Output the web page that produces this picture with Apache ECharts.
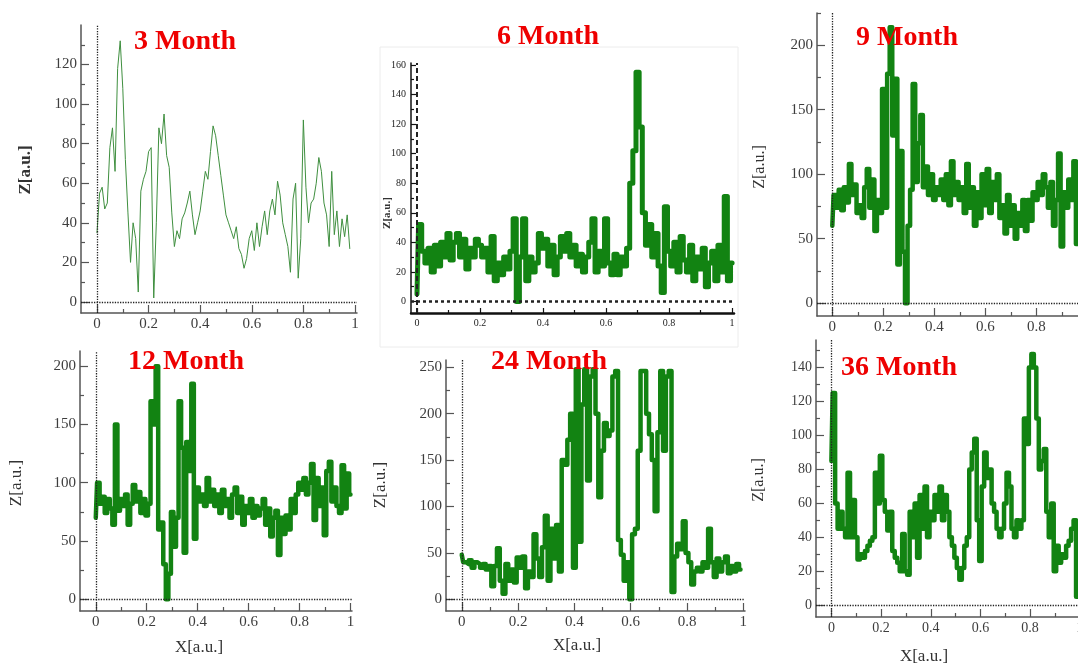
<!DOCTYPE html>
<html>
<head>
<meta charset="utf-8">
<title>Surface profiles</title>
<script src="https://cdn.jsdelivr.net/npm/echarts@6.0.0/dist/echarts.min.js"></script>
<style>
  html, body { margin: 0; padding: 0; background: #fff; }
  #chart { width: 1078px; height: 664px; }
</style>
</head>
<body>
<div id="chart"></div>
<script>
// sample positions along the profile
var xPos = [0, 0.01, 0.02, 0.03, 0.04, 0.05, 0.06, 0.07, 0.08, 0.09,
  0.1, 0.11, 0.12, 0.13, 0.14, 0.15, 0.16, 0.17, 0.18, 0.19,
  0.2, 0.21, 0.22, 0.23, 0.24, 0.25, 0.26, 0.27, 0.28, 0.29,
  0.3, 0.31, 0.32, 0.33, 0.34, 0.35, 0.36, 0.37, 0.38, 0.39,
  0.4, 0.41, 0.42, 0.43, 0.44, 0.45, 0.46, 0.47, 0.48, 0.49,
  0.5, 0.51, 0.52, 0.53, 0.54, 0.55, 0.56, 0.57, 0.58, 0.59,
  0.6, 0.61, 0.62, 0.63, 0.64, 0.65, 0.66, 0.67, 0.68, 0.69,
  0.7, 0.71, 0.72, 0.73, 0.74, 0.75, 0.76, 0.77, 0.78, 0.79,
  0.8, 0.81, 0.82, 0.83, 0.84, 0.85, 0.86, 0.87, 0.88, 0.89,
  0.9, 0.91, 0.92, 0.93, 0.94, 0.95, 0.96, 0.97, 0.98, 0.99, 1];

// Z values (a.u.)
var z3 = [35, 55, 58, 47, 50, 78, 88, 66, 118, 132,
  108, 72, 45, 20, 40, 32, 5, 56, 62, 66,
  76, 78, 2, 40, 88, 80, 95, 74, 68, 45,
  28, 36, 32, 42, 45, 50, 56, 44, 34, 40,
  46, 56, 66, 62, 76, 89, 84, 74, 64, 54,
  44, 40, 36, 32, 38, 27, 24, 17, 22, 32,
  36, 26, 40, 28, 38, 46, 34, 46, 52, 44,
  61, 54, 40, 34, 28, 15, 52, 60, 12, 32,
  92, 58, 40, 50, 52, 60, 73, 66, 50, 44,
  28, 66, 34, 46, 28, 42, 33, 44, 27];
var z6 = [5, 52, 34, 26, 36, 20, 38, 24, 40, 30,
  46, 28, 40, 46, 30, 42, 22, 36, 30, 42,
  38, 30, 36, 20, 44, 14, 26, 18, 30, 22,
  34, 56, 0, 30, 56, 14, 30, 20, 26, 46,
  36, 42, 24, 38, 18, 30, 44, 34, 46, 30,
  38, 24, 32, 20, 30, 40, 56, 20, 34, 24,
  56, 26, 18, 32, 18, 30, 24, 36, 80, 102,
  155, 118, 60, 38, 52, 30, 46, 24, 6, 64,
  34, 24, 40, 20, 44, 28, 20, 38, 14, 30,
  22, 36, 10, 26, 34, 14, 38, 20, 71, 14, 26];
var z9 = [60, 84, 74, 88, 72, 90, 78, 108, 84, 92,
  70, 76, 66, 90, 104, 74, 96, 56, 80, 70,
  166, 74, 178, 214, 130, 174, 30, 118, 40, 0,
  60, 88, 170, 94, 124, 146, 90, 106, 84, 100,
  80, 90, 84, 96, 80, 100, 76, 110, 84, 94,
  80, 90, 70, 108, 74, 90, 60, 86, 66, 100,
  76, 104, 70, 94, 80, 100, 66, 76, 54, 84,
  60, 76, 50, 70, 60, 80, 56, 80, 64, 86,
  80, 94, 84, 100, 90, 74, 94, 60, 80, 116,
  44, 86, 74, 96, 80, 110, 46, 80, 90, 70, 80];
var z12 = [70, 100, 82, 88, 74, 86, 78, 64, 150, 76,
  86, 80, 90, 64, 82, 98, 84, 92, 74, 86,
  72, 82, 170, 150, 200, 60, 66, 30, 0, 22,
  75, 45, 70, 170, 130, 40, 135, 110, 185, 52,
  96, 84, 90, 80, 104, 84, 94, 80, 90, 74,
  94, 80, 86, 70, 90, 96, 74, 88, 64, 80,
  74, 86, 70, 80, 72, 78, 86, 64, 78, 54,
  70, 76, 38, 70, 56, 72, 60, 86, 74, 90,
  100, 94, 104, 90, 100, 116, 68, 104, 80, 96,
  55, 110, 118, 84, 96, 80, 74, 115, 78, 108, 90];
var z24 = [48, 40, 38, 42, 34, 40, 38, 34, 38, 32,
  36, 14, 36, 55, 20, 6, 38, 20, 32, 18,
  45, 34, 46, 12, 30, 24, 70, 44, 24, 56,
  90, 20, 76, 44, 80, 30, 150, 145, 172, 200,
  34, 248, 62, 210, 248, 128, 240, 248, 200, 110,
  160, 190, 176, 182, 240, 246, 64, 48, 20, 40,
  0, 70, 76, 160, 246, 246, 200, 178, 150, 95,
  180, 246, 160, 240, 246, 8, 46, 60, 54, 84,
  50, 40, 16, 30, 34, 30, 40, 34, 76, 40,
  24, 44, 30, 40, 46, 28, 36, 30, 38, 32];
var z36 = [85, 125, 60, 45, 55, 45, 40, 78, 40, 62,
  40, 27, 30, 28, 32, 35, 38, 40, 78, 60,
  88, 62, 55, 44, 55, 32, 28, 25, 20, 42,
  20, 18, 55, 40, 60, 28, 65, 45, 70, 40,
  55, 50, 65, 55, 70, 50, 65, 55, 40, 35,
  28, 22, 15, 22, 35, 40, 80, 90, 98, 50,
  26, 70, 90, 75, 80, 60, 55, 45, 40, 45,
  60, 78, 70, 45, 40, 50, 45, 50, 110, 95,
  140, 148, 140, 110, 80, 85, 92, 55, 40, 60,
  20, 35, 25, 30, 28, 35, 38, 45, 50, 5, 5];

// tick positions
var xTicks = [0, 0.2, 0.4, 0.6, 0.8, 1];
var xMinor = [0.1, 0.3, 0.5, 0.7, 0.9];
var yTicks20 = [0, 20, 40, 60, 80, 100, 120];
var yMinor20 = [10, 30, 50, 70, 90, 110, 130];
var yTicks6 = [0, 20, 40, 60, 80, 100, 120, 140, 160];
var yMinor6 = [10, 30, 50, 70, 90, 110, 130, 150];
var yTicks50 = [0, 50, 100, 150, 200];
var yTicks24 = [0, 50, 100, 150, 200, 250];
var yMinor50 = [25, 75, 125, 175, 225];
var yTicks36 = [0, 20, 40, 60, 80, 100, 120, 140];
var yMinor36 = [10, 30, 50, 70, 90, 110, 130, 150];

var titles = ['3 Month', '6 Month', '9 Month', '12 Month', '24 Month', '36 Month'];

var SERIF = '"Liberation Serif", "DejaVu Serif", serif';
var THICK = '#128312';

var panels = [
  { z: z3, grid: { left: 81, top: 25, width: 276, height: 288 }, x: [-0.062, 1.008], y: [-5.6, 140],
    yT: yTicks20, yM: yMinor20, color: '#3f8f3f', lw: 1, title: [185, 42] },
  { z: z6, grid: { left: 411, top: 63, width: 323, height: 250 }, x: [-0.019, 1.006], y: [-7.8, 161.3],
    yT: yTicks6, yM: yMinor6, color: THICK, lw: 5, title: [548, 37], matlab: true },
  { z: z9, grid: { left: 817, top: 13, width: 276, height: 303 }, x: [-0.06, 1.022], y: [-9.9, 225],
    yT: yTicks50, yM: yMinor50, color: THICK, lw: 4.5, title: [907, 38] },
  { z: z12, grid: { left: 80, top: 351, width: 272, height: 260 }, x: [-0.062, 1.006], y: [-10, 213],
    yT: yTicks50, yM: yMinor50.slice(0, 4), color: THICK, lw: 4.5, title: [186, 362] },
  { z: z24, grid: { left: 446, top: 360, width: 299, height: 251 }, x: [-0.056, 1.006], y: [-12.6, 257.9],
    yT: yTicks24, yM: yMinor50, color: THICK, lw: 4.5, title: [549, 362] },
  { z: z36, grid: { left: 816, top: 340, width: 270, height: 277 }, x: [-0.062, 1.025], y: [-6.9, 156.2],
    yT: yTicks36, yM: yMinor36, color: THICK, lw: 4.5, title: [899, 368] }
];

var grids = [], xAxes = [], yAxes = [], series = [];

panels.forEach(function (p, i) {
  var m = !!p.matlab;
  var axisCol = m ? '#111' : '#555';
  var labelStyle = {
    color: m ? '#222' : '#3d3d3d',
    fontFamily: SERIF,
    fontSize: m ? 10 : (i === 5 ? 14 : 15),
    margin: m ? 5 : 4
  };
  // keep the grids exactly where they are, even past the right edge
  grids.push(Object.assign({ containLabel: false, outerBoundsMode: 'none' }, p.grid));

  function axisPair(dim, range, major, minor) {
    var base = {
      gridIndex: i, type: 'value', min: range[0], max: range[1],
      position: dim === 'x' ? 'bottom' : 'left',
      splitLine: { show: false }
    };
    var main = Object.assign({}, base, {
      axisLine: { show: true, onZero: false, lineStyle: { color: axisCol, width: (m && dim === 'x') ? 2.5 : 1.5 } },
      axisTick: { show: true, inside: true, length: m ? 5 : 8, customValues: major, lineStyle: { color: axisCol, width: 1.2 } },
      axisLabel: Object.assign({ show: true, customValues: major }, labelStyle)
    });
    var sub = Object.assign({}, base, {
      axisLine: { show: false, onZero: false },
      axisTick: { show: true, inside: true, length: m ? 3 : 4, customValues: minor, lineStyle: { color: axisCol, width: 1.2 } },
      axisLabel: { show: false }
    });
    return [main, sub];
  }
  var xa = axisPair('x', p.x, xTicks, xMinor);
  var ya = axisPair('y', p.y, p.yT, p.yM);
  xAxes.push(xa[0], xa[1]);
  yAxes.push(ya[0], ya[1]);

  series.push({
    name: titles[i],
    type: 'line',
    xAxisIndex: 2 * i,
    yAxisIndex: 2 * i,
    data: p.z.map(function (v, k) { return [xPos[k], v]; }),
    step: i === 0 ? false : 'middle',
    showSymbol: false,
    animation: false,
    silent: true,
    lineStyle: { color: p.color, width: p.lw, join: 'round', cap: 'round' },
    markLine: {
      silent: true,
      symbol: 'none',
      label: { show: false },
      animation: false,
      data: [
        { xAxis: 0, lineStyle: { type: m ? [5, 3] : 'dotted', color: '#222', width: m ? 2 : 1.3 } },
        { yAxis: 0, lineStyle: { type: m ? [3, 3] : 'dotted', color: '#222', width: m ? 2.5 : 1.3 } }
      ]
    }
  });
});

var titleFont = 'bold 28px ' + SERIF;
var graphics = [
  { type: 'rect', shape: { x: 380, y: 47, width: 358, height: 300 }, style: { fill: 'none', stroke: '#ececec', lineWidth: 1 }, z: 0 }
];
panels.forEach(function (p, i) {
  graphics.push({
    type: 'text', x: p.title[0], y: p.title[1], z: 100,
    style: { text: titles[i], fill: '#ee0000', font: titleFont, align: 'center', verticalAlign: 'middle' }
  });
});

// axis titles
var axisNames = [
  { t: 'Z[a.u.]', x: 26, y: 170, r: true, font: 'bold 17px ' + SERIF },
  { t: 'Z[a.u.]', x: 387, y: 213, r: true, font: 'bold 11px ' + SERIF },
  { t: 'Z[a.u.]', x: 760, y: 167, r: true, font: '16px ' + SERIF },
  { t: 'Z[a.u.]', x: 17, y: 483, r: true, font: '17px ' + SERIF },
  { t: 'Z[a.u.]', x: 381, y: 485, r: true, font: '17px ' + SERIF },
  { t: 'Z[a.u.]', x: 759, y: 480, r: true, font: '16px ' + SERIF },
  { t: 'X[a.u.]', x: 199, y: 648, r: false, font: '17px ' + SERIF },
  { t: 'X[a.u.]', x: 577, y: 646, r: false, font: '17px ' + SERIF },
  { t: 'X[a.u.]', x: 924, y: 657, r: false, font: '17px ' + SERIF }
];
axisNames.forEach(function (a) {
  graphics.push({
    type: 'text', x: a.x, y: a.y, rotation: a.r ? Math.PI / 2 : 0,
    style: { text: a.t, fill: '#333', font: a.font, align: 'center', verticalAlign: 'middle' }
  });
});

var myChart = echarts.init(document.getElementById('chart'));
myChart.setOption({
  backgroundColor: '#fff',
  animation: false,
  grid: grids,
  xAxis: xAxes,
  yAxis: yAxes,
  series: series,
  graphic: graphics
});
</script>
</body>
</html>
